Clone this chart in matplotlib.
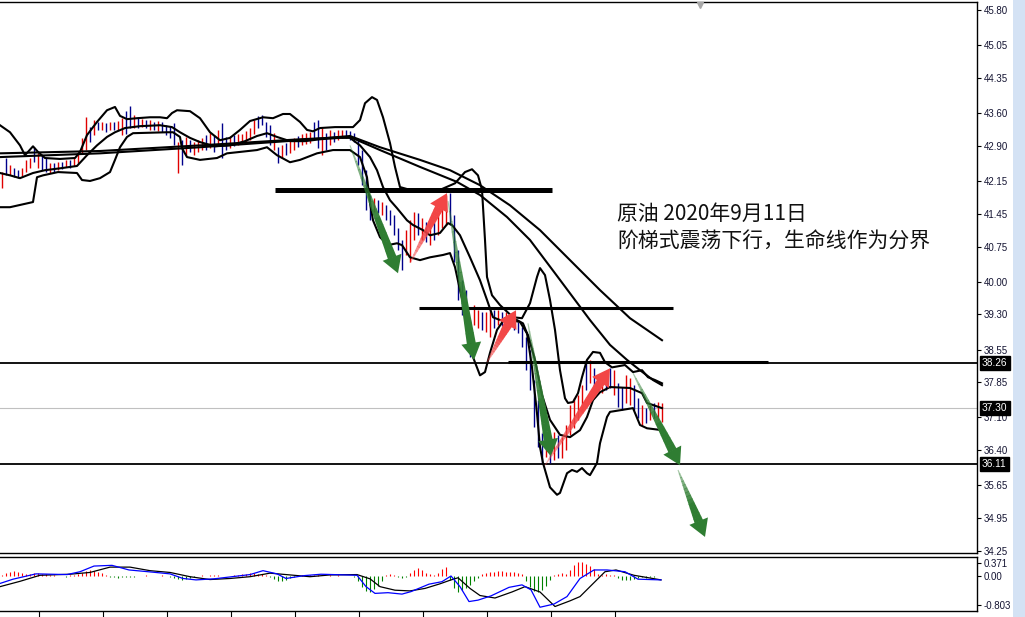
import numpy as np
import matplotlib
matplotlib.use("Agg")
import matplotlib.pyplot as plt
from matplotlib.patches import Polygon, Rectangle
from matplotlib.transforms import IdentityTransform, blended_transform_factory

plt.rcParams['font.family'] = ['Liberation Sans', 'DejaVu Sans']

# ---------------- price bars (one per bar index) ----------------
highs = [42.34, 42.64, 42.49, 42.42, 42.38, 42.42, 42.60, 42.64, 42.87, 42.74,
         42.70, 42.64, 42.53, 42.53, 42.55, 42.55, 42.60, 42.60, 42.64, 42.77,
         43.07, 43.51, 43.30, 43.45, 43.41, 43.41, 43.38, 43.41, 43.41, 43.43,
         43.49, 43.64, 43.75, 43.56, 43.51, 43.47, 43.45, 43.45, 43.41, 43.43,
         43.41, 43.34, 43.32, 43.38, 42.98, 43.02, 43.09, 43.02, 42.98, 43.02,
         43.07, 43.13, 43.17, 43.13, 43.24, 43.38, 43.09, 43.11, 43.13, 43.15,
         43.15, 43.21, 43.28, 43.45, 43.53, 43.56, 43.41, 43.34, 43.17, 42.87,
         42.91, 42.96, 43.00, 43.07, 43.11, 43.15, 43.17, 43.19, 43.41, 43.45,
         43.28, 43.17, 43.24, 43.19, 43.24, 43.24, 43.24, 43.21, 43.17, 43.02,
         42.81, 42.38, 41.85, 41.79, 41.74, 41.70, 41.63, 41.53, 41.42, 41.14,
         40.89, 41.10, 41.31, 41.48, 41.46, 41.36, 41.27, 41.31, 41.36, 41.46,
         41.74, 41.85, 41.89, 41.42, 40.67, 40.03, 39.82, 39.18, 39.50, 39.39,
         39.35, 39.35, 39.39, 39.39, 39.39, 39.35, 39.35, 39.24, 39.22, 39.14,
         39.03, 38.82, 38.54, 37.90, 37.47, 36.77, 36.68, 36.62, 36.79, 36.73,
         36.68, 36.94, 37.37, 37.51, 37.58, 37.79, 38.33, 38.33, 38.15, 38.00,
         37.98, 38.05, 38.15, 38.11, 37.83, 37.75, 38.00, 37.94, 37.79, 37.51,
         37.37, 37.30, 37.37, 37.41, 37.43, 37.41]
lows = [42.00, 42.27, 42.27, 42.23, 42.21, 42.25, 42.34, 42.42, 42.55, 42.42,
        42.38, 42.34, 42.32, 42.34, 42.38, 42.40, 42.45, 42.42, 42.47, 42.53,
        42.74, 42.81, 42.98, 43.13, 43.24, 43.24, 43.19, 43.24, 43.24, 43.24,
        43.13, 43.15, 43.28, 43.28, 43.28, 43.30, 43.28, 43.24, 43.24, 43.21,
        43.19, 43.13, 43.06, 42.91, 42.32, 42.49, 42.70, 42.77, 42.70, 42.77,
        42.81, 42.81, 42.85, 42.77, 42.91, 42.64, 42.81, 42.85, 42.89, 42.91,
        42.94, 42.98, 43.02, 43.15, 43.28, 43.34, 43.09, 42.91, 42.81, 42.53,
        42.64, 42.70, 42.74, 42.81, 42.87, 42.91, 42.94, 42.96, 43.02, 42.85,
        42.70, 42.81, 42.91, 42.98, 43.02, 43.07, 43.07, 43.02, 42.98, 42.49,
        42.06, 41.53, 41.31, 41.49, 41.46, 41.42, 41.31, 41.21, 40.99, 40.67,
        40.25, 40.57, 40.42, 40.89, 40.99, 40.89, 40.84, 40.78, 40.89, 40.99,
        41.14, 41.21, 41.21, 40.42, 39.61, 39.29, 38.97, 38.39, 39.07, 39.01,
        38.97, 38.92, 38.82, 39.01, 39.07, 39.05, 39.01, 39.03, 38.97, 38.90,
        38.60, 38.11, 37.69, 36.89, 36.47, 36.13, 36.26, 36.13, 36.19, 36.23,
        36.23, 36.41, 36.73, 36.87, 37.05, 37.26, 37.69, 37.83, 37.73, 37.64,
        37.62, 37.69, 37.73, 37.58, 37.32, 37.26, 37.41, 37.37, 37.26, 37.09,
        36.94, 36.98, 37.05, 37.09, 37.05, 37.00]
bar_dirs = ("rbrbbrrrbr" "bbrbrbrbrr" "rrbrbrbrbr" "rbbrbrbrbr" "bbbbrbrbrr"
            "rbrbrbbrbr" "rrrrbbbbrb" "rbrrbrrrbb" "rbrbrrbbbb" "bbbrbrbbbb"
            "brrrbrbrbr" "rrbbbbbbrr" "brrbrbrrbb" "bbbbbbrbrb" "rrrrrrbrbb"
            "rbbrbbrrbb" "rbrbrr")

# ---------------- indicator lines (bar index, price) ----------------
bb_upper = [(-0.5, 43.34), (2, 43.19), (4.5, 42.91), (5.75, 42.70), (7.75, 42.89), (9, 42.77),
            (10.75, 42.64), (14.5, 42.62), (18.25, 42.64), (19.5, 42.77), (21.25, 43.13),
            (23.75, 43.41), (26.25, 43.66), (28.25, 43.73), (29.5, 43.54), (31.25, 43.47),
            (33.75, 43.49), (37, 43.51), (39.5, 43.51), (41.25, 43.49), (42.5, 43.60),
            (43.75, 43.66), (47, 43.64), (49.5, 43.49), (52, 43.19), (54.5, 43.02),
            (57, 43.07), (59.5, 43.24), (62, 43.43), (65.25, 43.51), (67.75, 43.49),
            (70.25, 43.58), (72, 43.58), (74.5, 43.41), (76.25, 43.24), (77.75, 43.21),
            (79.5, 43.28), (83.25, 43.30), (87.75, 43.30), (89.5, 43.45), (90.75, 43.81),
            (92.5, 43.94), (93.75, 43.88), (95.25, 43.51), (97, 42.96), (98.25, 42.45),
            (99.5, 42.02), (102, 41.96), (105.75, 41.93), (109.5, 41.96), (113.25, 42.10),
            (115.75, 42.34), (117.5, 42.40), (119, 42.27), (120, 41.96), (120.75, 40.89),
            (121.25, 40.10), (122.5, 39.71), (124.5, 39.50), (127.75, 39.24), (130, 39.22),
            (132, 39.54), (133.75, 40.10), (134.5, 40.29), (135.75, 40.14), (137, 39.61),
            (138.25, 38.97), (139.5, 38.11), (140.75, 37.51), (141.5, 37.41), (142.75, 37.43),
            (144, 37.62), (145, 37.96), (146.25, 38.33), (147.75, 38.50), (149.5, 38.48),
            (150.75, 38.28), (152.5, 38.17), (155.75, 38.22), (157.75, 38.07), (160, 38.11),
            (161.5, 37.96), (163.25, 37.90), (165, 37.83)]
bb_middle = [(-0.5, 42.32), (2, 42.27), (4.5, 42.21), (7.75, 42.32), (10.75, 42.38), (14.5, 42.42),
             (18.75, 42.47), (21.25, 42.70), (23.75, 42.91), (26.25, 43.09), (28.25, 43.19),
             (30.75, 43.28), (34.5, 43.32), (39.5, 43.34), (42.5, 43.30), (44.5, 43.19),
             (47, 43.07), (49.5, 42.98), (53.25, 42.89), (57, 42.91), (60.75, 43.00),
             (63.75, 43.11), (66.25, 43.17), (68.75, 43.09), (72, 43.00), (75.75, 43.00),
             (79.5, 43.04), (84.5, 43.07), (87, 43.07), (89.5, 42.91), (92, 42.66),
             (93.75, 42.38), (95.25, 42.02), (97, 41.74), (98.75, 41.57), (101.25, 41.31),
             (102.75, 41.21), (105.25, 41.10), (107, 40.99), (109.5, 41.04), (111.5, 41.25),
             (112.5, 41.21), (114.5, 40.99), (117, 40.52), (119.5, 40.03), (121.25, 39.61),
             (122.75, 39.24), (124.5, 39.18), (127, 39.18), (129.5, 39.14), (131.5, 38.86),
             (133.25, 38.33), (135, 37.58), (137, 37.05), (139.5, 36.73), (142, 36.68),
             (144.5, 36.83), (146.25, 37.11), (147.75, 37.47), (149.5, 37.64), (152, 37.75),
             (157, 37.73), (160, 37.62), (161.25, 37.41), (165, 37.30)]
bb_lower = [(-0.5, 41.59), (2, 41.59), (7.75, 41.70), (8.75, 42.23), (10.25, 42.27), (14, 42.34),
            (18.75, 42.32), (20, 42.17), (22, 42.15), (24.5, 42.21), (27, 42.34), (28.25, 42.60),
            (29.5, 42.87), (31.25, 43.09), (32.75, 43.17), (41.25, 43.19), (42.75, 43.19),
            (44.5, 43.09), (45, 42.85), (46.25, 42.66), (49.5, 42.60), (53.75, 42.64),
            (56.25, 42.74), (59.5, 42.77), (63.75, 42.81), (66.25, 42.87), (68.75, 42.70),
            (72, 42.55), (74.5, 42.60), (78.75, 42.74), (82.75, 42.81), (87, 42.81),
            (89.5, 42.66), (91.25, 42.23), (92, 41.68), (92.75, 41.31), (94.5, 40.95),
            (96.5, 40.78), (98.75, 40.82), (100, 40.78), (102, 40.52), (104.5, 40.46),
            (107, 40.52), (110.25, 40.57), (112, 40.61), (113.25, 40.31), (114.5, 39.82),
            (116.25, 39.18), (117.75, 38.39), (119.5, 38.00), (120.75, 38.07), (122, 38.48),
            (123.75, 38.97), (125.75, 39.22), (128.75, 39.18), (130.25, 39.11), (131.25, 38.90),
            (132.5, 38.17), (133.75, 37.19), (134.5, 36.47), (135.25, 36.13), (137, 35.61),
            (138.75, 35.45), (139.5, 35.49), (141.25, 35.91), (142.5, 35.98), (143.75, 35.94),
            (145, 36.02), (146.25, 35.91), (147, 35.87), (147.75, 35.98), (148.75, 36.13),
            (149.5, 36.55), (151.25, 37.11), (152, 37.22), (157.75, 37.30), (159.5, 36.94),
            (161.25, 36.87), (165, 36.83)]
ma_slow = [(-0.5, 42.66), (24.5, 42.74), (49.5, 42.87), (74.5, 43.02), (87, 43.11), (94.5, 42.87),
           (104.5, 42.60), (112, 42.38), (119.5, 42.06), (127, 41.63), (134.5, 41.10),
           (142, 40.46), (149.5, 39.82), (157, 39.22), (165, 38.75)]
ma_fast = [(-0.5, 42.74), (24.5, 42.79), (49.5, 42.91), (74.5, 43.04), (87, 43.09), (94.5, 42.81),
           (104.5, 42.45), (113.75, 42.13), (119.5, 41.85), (126.25, 41.38), (132, 40.89),
           (138.25, 40.18), (147, 39.18), (152, 38.65), (156.25, 38.33), (159.5, 38.11),
           (162.75, 37.90), (165, 37.79)]

# ---------------- MACD panel ----------------
macd_hist = [0.03, 0.08, 0.12, 0.13, 0.11, 0.08,
             0.06, 0.07, 0.09, 0.08, 0.06, 0.05, 0.03,
             0.02, -0.01, 0.01, -0.02, 0.02, 0.03, 0.05,
             0.09, 0.14, 0.16, 0.15, 0.12, 0.08, 0.04,
             -0.02, -0.04, -0.05, -0.04, -0.03, -0.04, -0.02,
             0.01, -0.01, 0.02, 0.01, -0.01, 0.01, 0.02, -0.01,
             -0.03, -0.06, -0.09, -0.10, -0.08, -0.06, -0.03,
             0.01, 0.02, 0.01, 0.02,
             0.03, 0.03, 0.01,
             -0.01, 0.01, 0.02, 0.03,
             0.05, 0.07, 0.08, 0.08, 0.07, 0.05, 0.02, -0.02,
             -0.08, -0.13, -0.14, -0.11, -0.07, -0.03,
             0.02, 0.03, 0.04, 0.03, 0.02, 0.03, 0.01,
             0.01, 0.02, -0.01, 0.02, 0.01, -0.01, 0.01, -0.02,
             -0.15, -0.30, -0.42, -0.45, -0.38, -0.28, -0.15,
             0.04, 0.05, 0.03,
             -0.03, -0.05, -0.04,
             0.08, 0.18, 0.23, 0.18,
             0.08, 0.05, 0.04,
             0.08, 0.20, 0.25,
             -0.10, -0.35, -0.45, -0.40, -0.33, -0.25, -0.15, -0.06,
             0.05, 0.08, 0.10, 0.12, 0.13, 0.13, 0.12, 0.12, 0.10, 0.08, 0.05,
             -0.15, -0.30, -0.42, -0.45, -0.40, -0.28, -0.12,
             0.04, 0.06, 0.08, 0.07,
             0.18, 0.32, 0.40, 0.40, 0.35, 0.28, 0.20,
             0.06, 0.04, 0.05, 0.03, 0.02,
             -0.06, -0.10, -0.12, -0.10, -0.08,
             -0.06, -0.04, -0.05, -0.03, -0.02, 0.00, 0.00]
macd_line = [(-0.5, -0.21), (2.75, -0.09), (8.5, 0.06), (16.25, 0.04), (19.5, 0.12), (23, 0.28),
             (27.5, 0.30), (31.75, 0.17), (37.5, 0.11), (42, 0.06), (45.25, -0.07), (48.5, -0.11),
             (53, -0.08), (57.5, -0.02), (62, 0.04), (65.25, 0.15), (68.75, 0.06), (71, -0.07),
             (75.5, 0.01), (79.75, 0.05), (88.75, 0.02), (91, -0.30), (93.25, -0.49), (96.5, -0.47),
             (100, -0.51), (102.25, -0.44), (106.75, -0.23), (110, -0.16), (112.25, 0.0),
             (114.5, -0.30), (116.75, -0.72), (119, -0.68), (122.25, -0.56), (126.75, -0.32),
             (130, -0.25), (132.25, -0.39), (134.5, -0.88), (138, -0.79), (141.25, -0.58),
             (144.5, -0.07), (148, 0.17), (151.25, 0.17), (155.75, 0.12), (159, -0.09),
             (164.75, -0.11)]
signal_line = [(-0.5, -0.30), (4.5, -0.15), (9.5, 0.02), (17, 0.05), (22, 0.10), (27, 0.25),
               (32, 0.25), (37, 0.15), (42, 0.10), (47, -0.02), (52, -0.10), (57, -0.07),
               (62, -0.02), (67, 0.08), (72, 0.03), (77, -0.02), (82, 0.03), (88.75, 0.04),
               (92, -0.08), (94.5, -0.30), (98.25, -0.40), (102, -0.42), (105.75, -0.35),
               (109.5, -0.22), (112, -0.12), (114, -0.05), (117, -0.35), (119.5, -0.55),
               (123.25, -0.62), (127.5, -0.45), (130.75, -0.30), (134.5, -0.45), (138.25, -0.86),
               (142, -0.70), (144.5, -0.58), (147, -0.30), (150.75, 0.12), (153.5, 0.17),
               (158, 0.02), (164.75, -0.11)]

# ---------------- annotations ----------------
price_ticks = [45.80, 45.05, 44.35, 43.60, 42.90, 42.15, 41.45, 40.75, 40.00, 39.30,
               38.55, 37.85, 37.10, 36.40, 35.65, 34.95, 34.25]
macd_ticks = [0.371, 0.00, -0.803]
macd_tick_labels = ["0.371", "0.00", "-0.803"]
time_ticks = [9.25, 25.25, 41.25, 57.25, 73.25, 89.25, 105.25, 121.25, 137.25, 153.25]
level_full = [38.26, 36.11]
bid_price = 37.30
# (start index, end index, price, width in pt)
level_segments = [(68.25, 137.5, 41.96, 3.6), (104.25, 167.75, 39.44, 2.2), (126.5, 191.5, 38.28, 2.2)]
green_arrows = [((87, 42.91), (99, 40.18)), ((111.5, 41.72), (118, 38.33)),
                ((131.5, 39.11), (137.25, 36.27)), ((157.75, 38.05), (169.5, 36.08)),
                ((169, 35.98), (175.75, 34.55))]
red_arrows = [((102, 40.40), (111.25, 41.89)), ((121.25, 38.28), (128.5, 39.39)),
              ((135.75, 36.08), (152, 38.15))]
title_lines = ["原油 2020年9月11日", "阶梯式震荡下行，生命线作为分界"]
title_pos = [(153.75, 41.44), (153.75, 40.85)]

# ---------------- figure ----------------
W, H = 1025, 617
fig = plt.figure(figsize=(W / 100, H / 100), dpi=100)
fig.patch.set_facecolor('white')

def box(x0, y0, x1, y1):
    return [x0 / W, 1 - y1 / H, (x1 - x0) / W, (y1 - y0) / H]

ax = fig.add_axes(box(0, 2, 977, 553))
axm = fig.add_axes(box(0, 557, 977, 611))

XLIM = (-0.5, 243.75)
ax.set_xlim(*XLIM)
ax.set_ylim(34.207, 45.971)
axm.set_xlim(*XLIM)
axm.set_ylim(-0.986, 0.535)

for a in (ax, axm):
    a.spines['left'].set_visible(False)
    for s in ('top', 'bottom', 'right'):
        a.spines[s].set_linewidth(1.0)
        a.spines[s].set_color('black')
    a.yaxis.tick_right()
    a.tick_params(axis='y', direction='out', length=3, width=0.8, pad=2,
                  labelsize=7, colors='black')

ax.set_xticks([])
ax.set_yticks(price_ticks)
ax.set_yticklabels([f"{v:.2f}" for v in price_ticks])
for lbl in ax.get_yticklabels() + axm.get_yticklabels():
    lbl.set_color('#141432')

axm.set_yticks(macd_ticks)
axm.set_yticklabels(macd_tick_labels)
for lbl in axm.get_yticklabels():
    lbl.set_color('#141432')
axm.set_xticks(time_ticks)
axm.set_xticklabels([])
axm.tick_params(axis='x', direction='out', length=5, width=0.8, bottom=True)

# full width level lines and bid line
for lv in level_full:
    ax.axhline(lv, color='black', lw=1.3, zorder=2)
ax.axhline(bid_price, color='#c0c0c0', lw=0.8, zorder=1)

# bars
idx = np.arange(len(highs))
cols = ['#e00000' if c == 'r' else '#00008b' for c in bar_dirs]
ax.vlines(idx, lows, highs, colors=cols, lw=1.0, zorder=3)

# indicator lines
for line in (ma_slow, ma_fast, bb_upper, bb_middle, bb_lower):
    xs, ys = zip(*line)
    ax.plot(xs, ys, color='black', lw=1.5, zorder=4, solid_joinstyle='round')

# level segments
for x0, x1, pv, lw in level_segments:
    ax.plot([x0, x1], [pv, pv], color='black', lw=lw, zorder=5, solid_capstyle='butt')

# arrows (drawn in pixel space, shaft fading towards the tail)
fig.canvas.draw()

def draw_arrow(a, p0, p1, color, shaft=9.0, head_w=20.0, head_l=17.0, tail=1.0, nseg=14):
    t = a.transData
    x0, y0 = t.transform(p0)
    x1, y1 = t.transform(p1)
    dx, dy = x1 - x0, y1 - y0
    L = np.hypot(dx, dy)
    ux, uy = dx / L, dy / L
    nx, ny = -uy, ux
    bx, by = x1 - ux * head_l, y1 - uy * head_l
    shaft_len = L - head_l
    for k in range(nseg):
        f0, f1 = k / nseg, (k + 1) / nseg
        w0 = tail + (shaft - tail) * f0
        w1 = tail + (shaft - tail) * f1
        cx0, cy0 = x0 + ux * shaft_len * f0, y0 + uy * shaft_len * f0
        cx1, cy1 = x0 + ux * (shaft_len * f1 + 0.6), y0 + uy * (shaft_len * f1 + 0.6)
        pts = [(cx0 + nx * w0 / 2, cy0 + ny * w0 / 2), (cx1 + nx * w1 / 2, cy1 + ny * w1 / 2),
               (cx1 - nx * w1 / 2, cy1 - ny * w1 / 2), (cx0 - nx * w0 / 2, cy0 - ny * w0 / 2)]
        alpha = min(1.0, 0.35 + 0.9 * f1)
        fig.add_artist(Polygon(pts, closed=True, transform=IdentityTransform(),
                               facecolor=color, edgecolor='none', alpha=alpha, zorder=6))
    head = [(bx + nx * head_w / 2, by + ny * head_w / 2), (x1, y1),
            (bx - nx * head_w / 2, by - ny * head_w / 2)]
    fig.add_artist(Polygon(head, closed=True, transform=IdentityTransform(),
                           facecolor=color, edgecolor='none', zorder=6))

for p0, p1 in green_arrows:
    draw_arrow(ax, p0, p1, '#2f7d32')
for p0, p1 in red_arrows:
    draw_arrow(ax, p0, p1, '#f24646')

# shift marker at top
ax.plot([174.5], [45.90], marker='v', color='#a8a8a8', markersize=5, zorder=6, clip_on=False)

# title text
for txt, (tx, ty) in zip(title_lines, title_pos):
    ax.text(tx, ty, txt, fontsize=15, ha='left', va='center', color='#111111',
            family=['Noto Sans CJK SC', 'DejaVu Sans'], zorder=7)

# boxed price labels on the right axis
trans = blended_transform_factory(ax.transAxes, ax.transData)
for lv in level_full + [bid_price]:
    ax.text(1.0 + 5 / 977, lv, f"{lv:.2f}", transform=trans, ha='left', va='center',
            fontsize=7.3, color='white', zorder=8, clip_on=False,
            bbox=dict(boxstyle='square,pad=0.22', fc='black', ec='black'))

# MACD
hist_cols = ['#ff0000' if v >= 0 else '#008000' for v in macd_hist]
axm.vlines(idx, 0, macd_hist, colors=hist_cols, lw=0.8, zorder=2)
xs, ys = zip(*signal_line)
axm.plot(xs, ys, color='black', lw=0.9, zorder=3)
xs, ys = zip(*macd_line)
axm.plot(xs, ys, color='#0000ff', lw=0.9, zorder=4)

# window edge strip
fig.add_artist(Rectangle((1013 / W, 0), 12 / W, 1, transform=fig.transFigure,
                         facecolor='#d4e2f4', edgecolor='none'))

fig.savefig('out.png', dpi=100)
